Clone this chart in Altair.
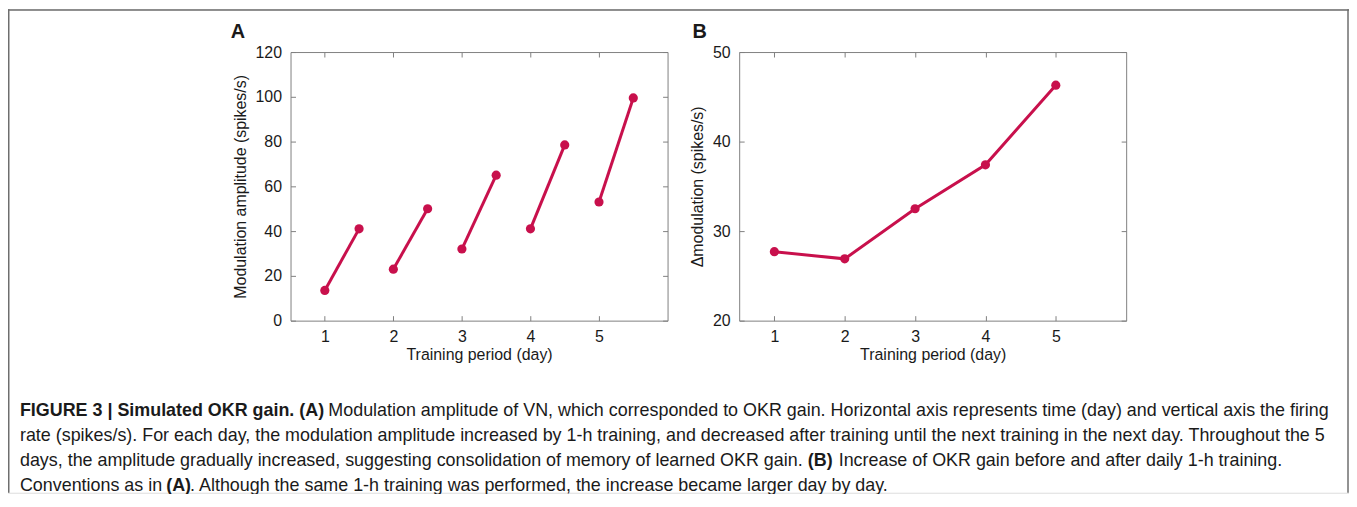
import altair as alt
import pandas as pd

# ---------------- data ----------------
days = [1, 2, 3, 4, 5]
train_start = [1, 2, 3, 4, 5]
train_end = [1.5, 2.5, 3.5, 4.5, 5.5]
amp_before = [13.5, 23, 32, 41, 53]
amp_after = [41, 50, 65, 78.5, 99.5]
delta_mod = [27.7, 26.9, 32.5, 37.4, 46.3]

a_ticks_y = [0, 20, 40, 60, 80, 100, 120]
b_ticks_y = [20, 30, 40, 50]
x_ticks = [1, 2, 3, 4, 5]

caption_l1_bold = "FIGURE 3 | Simulated OKR gain. (A)"
caption_l1 = "Modulation amplitude of VN, which corresponded to OKR gain. Horizontal axis represents time (day) and vertical axis the firing"
caption_l2 = "rate (spikes/s). For each day, the modulation amplitude increased by 1-h training, and decreased after training until the next training in the next day. Throughout the 5"
caption_l3a = "days, the amplitude gradually increased, suggesting consolidation of memory of learned OKR gain."
caption_l3_bold = "(B)"
caption_l3b = "Increase of OKR gain before and after daily 1-h training."
caption_l4a = "Conventions as in"
caption_l4_bold = "(A)"
caption_l4b = ". Although the same 1-h training was performed, the increase became larger day by day."

rows = []
for d, s, e, b, a in zip(days, train_start, train_end, amp_before, amp_after):
    rows.append({"day": d, "t": s, "amp": b})
    rows.append({"day": d, "t": e, "amp": a})
df_a = pd.DataFrame(rows)
df_b = pd.DataFrame({"t": days, "dmod": delta_mod})

# ---------------- style ----------------
W, H = 1348, 486
RED = "#c8104c"
GRAY = "#808080"
FONT = "Liberation Sans"
TXT = "#1a1a1a"
TOP, BOT = 43, 313
CAP = 18


def axis_common():
    return dict(grid=False, labelFont=FONT, labelFontSize=16, labelColor=TXT,
                titleFont=FONT, titleFontSize=16, titleFontWeight="normal",
                titleColor=TXT, labelFlush=False, labelOverlap=False)


def panel(df, yfield, xrange, ydomain, yticks, ytitle, detail=None):
    x0, x1 = xrange
    xs = alt.Scale(domain=[0.5, 6], range=[x0, x1], zero=False, nice=False)
    ys = alt.Scale(domain=ydomain, range=[BOT, TOP], zero=False, nice=False)

    def enc(ch, xaxis, yaxis):
        e = dict(
            x=alt.X("t:Q", scale=xs, axis=xaxis),
            y=alt.Y(f"{yfield}:Q", scale=ys, axis=yaxis),
        )
        if detail:
            e["detail"] = alt.Detail(f"{detail}:N")
        return ch.encode(**e)

    c = alt.Chart(df)
    l1 = enc(c.mark_line(color=RED, strokeWidth=3),
             alt.Axis(orient="bottom", offset=BOT - H, domain=True, domainColor=GRAY,
                      ticks=False, labels=False, title=None, grid=False),
             alt.Axis(orient="left", offset=-x0, domain=True, domainColor=GRAY,
                      ticks=False, labels=False, title=None, grid=False))
    l2 = enc(c.mark_circle(color=RED, size=85, opacity=1),
             alt.Axis(orient="bottom", offset=BOT - H - 5, domain=False, ticks=True,
                      tickSize=5, tickColor=GRAY, values=x_ticks, labelPadding=8,
                      title="Training period (day)", titlePadding=2, **axis_common()),
             alt.Axis(orient="left", offset=-(x0 + 5), domain=False, ticks=True,
                      tickSize=5, tickColor=GRAY, values=yticks, labelPadding=9,
                      title=ytitle, titlePadding=7, **axis_common()))
    l3 = enc(c.mark_circle(opacity=0),
             alt.Axis(orient="top", offset=-TOP, domain=True, domainColor=GRAY,
                      ticks=False, labels=False, title=None, grid=False),
             alt.Axis(orient="right", offset=x1 - W, domain=True, domainColor=GRAY,
                      ticks=False, labels=False, title=None, grid=False))
    l4 = enc(c.mark_circle(opacity=0),
             alt.Axis(orient="top", offset=-(TOP + 5), domain=False, ticks=True,
                      tickSize=5, tickColor=GRAY, values=x_ticks, labels=False,
                      title=None, grid=False),
             alt.Axis(orient="right", offset=x1 - W - 5, domain=False, ticks=True,
                      tickSize=5, tickColor=GRAY, values=yticks, labels=False,
                      title=None, grid=False))
    return alt.layer(l1, l2, l3, l4).resolve_axis(x="independent", y="independent")


panel_a = panel(df_a, "amp", (284, 663), [0, 120], a_ticks_y,
                "Modulation amplitude (spikes/s)", detail="day")
panel_b = panel(df_b, "dmod", (735, 1124), [20, 50], b_ticks_y,
                "\u0394modulation (spikes/s)")


def text(s, x, y, bold=False, size=CAP, font=FONT, align="left"):
    return alt.Chart(pd.DataFrame({"s": [s]})).mark_text(
        align=align, baseline="middle", font=font, fontSize=size,
        fontWeight="bold" if bold else "normal", color=TXT
    ).encode(text="s:N", x=alt.value(x), y=alt.value(y))


def rule(x, y, x2=None, y2=None):
    e = dict(x=alt.value(x), y=alt.value(y))
    if x2 is not None:
        e["x2"] = alt.value(x2)
    if y2 is not None:
        e["y2"] = alt.value(y2)
    return alt.Chart(pd.DataFrame({"r": [0]})).mark_rule(
        color="#6e6e6e", strokeWidth=1.5).encode(**e)


border = [rule(0.75, 0, y2=H), rule(0, 0.75, x2=W), rule(W - 1, 0, y2=H)]

letters = [text("A", 224, 23, bold=True, size=20),
           text("B", 688, 23, bold=True, size=20)]

CX = 12
captions = [
    text(caption_l1_bold, CX, 404, bold=True),
    text(caption_l1, 322, 404),
    text(caption_l2, CX, 429),
    text(caption_l3a, CX, 454),
    text(caption_l3_bold, 804, 454, bold=True),
    text(caption_l3b, 835, 454),
    text(caption_l4a, CX, 479),
    text(caption_l4_bold, 159, 479, bold=True),
    text(caption_l4b, 183, 479),
]

chart = alt.layer(
    panel_a, panel_b, *border, *letters, *captions
).resolve_scale(
    x="independent", y="independent"
).properties(
    width=W, height=H, autosize=alt.AutoSizeParams(type="none"), padding=0
).configure_view(strokeWidth=0, stroke="transparent").configure(background="white")

chart.save("out.html", embed_options={"renderer": "svg", "actions": False})
